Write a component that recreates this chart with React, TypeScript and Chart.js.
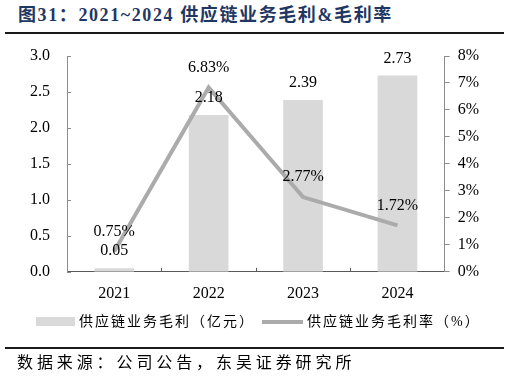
import React, { useEffect, useRef } from "react";
import { Chart, registerables } from "chart.js";

Chart.register(...registerables);

const years = ["2021", "2022", "2023", "2024"];
const grossProfit = [0.05, 2.18, 2.39, 2.73];
const grossMargin = [0.75, 6.83, 2.77, 1.72];
const leftTickMax = 3;
const leftTickStep = 0.5;
const rightTickMax = 8;
const rightTickStep = 1;

const barColor = "#d9d9d9";
const lineColor = "#ababab";
const axisGrey = "#8c8c8c";
const axisDark = "#595959";
const serif = '"Liberation Serif", "Noto Sans CJK SC", serif';
const cjk = '"Liberation Serif", "Noto Sans CJK SC", sans-serif';

const innerTicks = {
  id: "innerTicks",
  afterDatasetsDraw(chart: any) {
    const { ctx, chartArea, scales } = chart;
    const y = scales.y;
    const x = scales.x;
    ctx.save();
    ctx.lineWidth = 1;
    ctx.strokeStyle = axisGrey;
    y.ticks.forEach((t: any) => {
      const py = Math.round(y.getPixelForValue(t.value)) + 0.5;
      ctx.beginPath();
      ctx.moveTo(chartArea.left, py);
      ctx.lineTo(chartArea.left + 4, py);
      ctx.stroke();
    });
    ctx.strokeStyle = axisDark;
    for (let i = 1; i < years.length; i++) {
      const px = Math.round((x.getPixelForTick(i - 1) + x.getPixelForTick(i)) / 2) + 0.5;
      ctx.beginPath();
      ctx.moveTo(px, chartArea.bottom);
      ctx.lineTo(px, chartArea.bottom - 4);
      ctx.stroke();
    }
    ctx.restore();
  },
};

const valueLabels = {
  id: "valueLabels",
  afterDraw(chart: any) {
    const { ctx } = chart;
    ctx.save();
    ctx.font = `16px ${serif}`;
    ctx.fillStyle = "#000";
    ctx.textAlign = "center";
    ctx.textBaseline = "middle";
    chart.getDatasetMeta(0).data.forEach((el: any, i: number) => {
      ctx.fillText(grossProfit[i].toFixed(2), el.x, el.y - 17);
    });
    chart.getDatasetMeta(1).data.forEach((el: any, i: number) => {
      ctx.fillText(grossMargin[i].toFixed(2) + "%", el.x, el.y - 20);
    });
    ctx.restore();
  },
};

export default function App() {
  const ref = useRef<HTMLCanvasElement>(null);

  useEffect(() => {
    const chart = new Chart(ref.current!, {
      type: "bar",
      data: {
        labels: years,
        datasets: [
          {
            type: "bar",
            label: "供应链业务毛利（亿元）",
            data: grossProfit,
            backgroundColor: barColor,
            yAxisID: "y",
            categoryPercentage: 1,
            barPercentage: 0.42,
            order: 1,
          },
          {
            type: "line",
            label: "供应链业务毛利率（%）",
            data: grossMargin,
            borderColor: lineColor,
            borderWidth: 4,
            pointRadius: 0,
            tension: 0,
            yAxisID: "y1",
            order: 0,
          } as any,
        ],
      },
      options: {
        responsive: true,
        maintainAspectRatio: false,
        animation: false,
        devicePixelRatio: 1,
        layout: { padding: { left: 13, right: 23, top: 56, bottom: 0 } },
        plugins: {
          legend: { display: false },
          tooltip: { enabled: false },
        },
        scales: {
          x: {
            offset: true,
            grid: { display: false, drawTicks: false },
            border: { display: true, color: axisDark, width: 1 },
            ticks: { color: "#000", font: { family: serif, size: 16 }, padding: 12 },
          },
          y: {
            position: "left",
            min: 0,
            max: leftTickMax,
            grid: { display: false, drawTicks: false },
            border: { display: true, color: axisGrey, width: 1 },
            ticks: {
              stepSize: leftTickStep,
              color: "#000",
              font: { family: serif, size: 16 },
              padding: 17,
              callback: (v: any) => Number(v).toFixed(1),
            },
          },
          y1: {
            position: "right",
            min: 0,
            max: rightTickMax,
            grid: { drawOnChartArea: false, tickLength: 5, color: axisGrey },
            border: { display: true, color: axisGrey, width: 1 },
            ticks: {
              stepSize: rightTickStep,
              color: "#000",
              font: { family: serif, size: 16 },
              padding: 8,
              callback: (v: any) => `${v}%`,
            },
          },
        },
      },
      plugins: [innerTicks, valueLabels],
    });
    return () => chart.destroy();
  }, []);

  return (
    <div
      style={{
        position: "fixed",
        left: 0,
        top: 0,
        width: 510,
        height: 381,
        background: "#fff",
        overflow: "hidden",
      }}
    >
      <div
        style={{
          position: "absolute",
          left: 18,
          top: 5,
          fontSize: 18,
          lineHeight: "21px",
          letterSpacing: 1.6,
          fontWeight: "bold",
          color: "#1f3763",
          fontFamily: cjk,
          whiteSpace: "nowrap",
        }}
      >
        图31：2021~2024 供应链业务毛利&amp;毛利率
      </div>
      <div style={{ position: "absolute", left: 5, top: 32, width: 499, height: 2, background: "#1a1a1a" }} />
      <div style={{ position: "absolute", left: 0, top: 0, width: 510, height: 315 }}>
        <canvas ref={ref} />
      </div>
      <div style={{ position: "absolute", left: 36, top: 317, width: 39, height: 9, background: barColor }} />
      <div
        style={{
          position: "absolute",
          left: 79,
          top: 313,
          fontSize: 14,
          lineHeight: "18px",
          letterSpacing: 2,
          fontFamily: cjk,
          color: "#000",
          whiteSpace: "nowrap",
        }}
      >
        供应链业务毛利（亿元）
      </div>
      <div style={{ position: "absolute", left: 262, top: 320, width: 41, height: 4, background: lineColor }} />
      <div
        style={{
          position: "absolute",
          left: 307,
          top: 313,
          fontSize: 14,
          lineHeight: "18px",
          letterSpacing: 2,
          fontFamily: cjk,
          color: "#000",
          whiteSpace: "nowrap",
        }}
      >
        供应链业务毛利率（%）
      </div>
      <div style={{ position: "absolute", left: 5, top: 347, width: 499, height: 2, background: "#1a1a1a" }} />
      <div
        style={{
          position: "absolute",
          left: 17,
          top: 353,
          fontSize: 16,
          lineHeight: "20px",
          letterSpacing: 3.9,
          fontFamily: cjk,
          color: "#000",
          whiteSpace: "nowrap",
        }}
      >
        数据来源：公司公告，东吴证券研究所
      </div>
    </div>
  );
}
